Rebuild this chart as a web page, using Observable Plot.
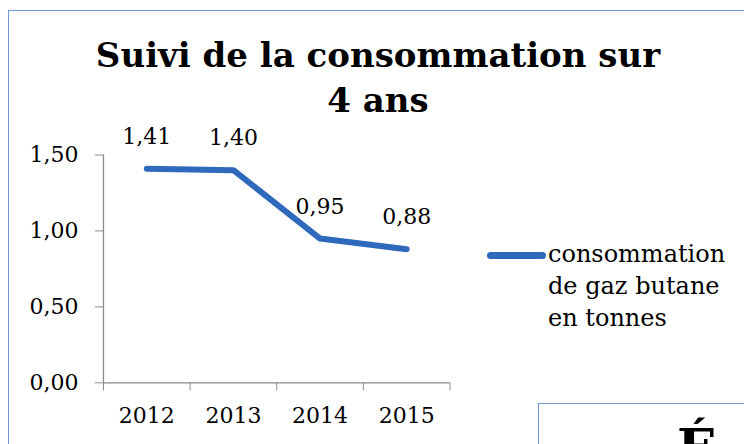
<!DOCTYPE html>
<html>
<head>
<meta charset="utf-8">
<script src="https://cdn.jsdelivr.net/npm/d3@7"></script>
<script src="https://cdn.jsdelivr.net/npm/@observablehq/plot@0.6"></script>
<style>
  html, body { margin: 0; padding: 0; background: #fff; }
  #page { position: relative; width: 744px; height: 444px; overflow: hidden; background: #fff; font-family: "DejaVu Serif", serif; color: #000; }
  #frame { position: absolute; left: 8px; top: 10px; width: 900px; height: 600px; border: 1.5px solid #6f98d3; box-sizing: border-box; }
  #title { position: absolute; left: 78px; width: 600px; top: 33px; text-align: center; font-weight: bold; font-size: 34px; line-height: 45px; }
  #chart { position: absolute; left: 0; top: 0; }
  #legend { position: absolute; left: 486px; top: 238px; }
  #legend svg { position: absolute; left: 0; top: 0; }
  #legend .lbl { position: absolute; left: 62px; top: 0; font-size: 24px; line-height: 32px; white-space: nowrap; }
  #box { position: absolute; left: 538px; top: 403px; width: 400px; height: 200px; border: 1.5px solid #6f98d3; box-sizing: border-box; background: #fff; }
  #box span { position: absolute; left: 138px; top: 14px; font-weight: bold; font-size: 52px; line-height: 60px; }
</style>
</head>
<body>
<div id="page">
  <div id="frame"></div>
  <div id="chart"></div>
  <div id="title">Suivi de la consommation sur<br>4 ans</div>
  <div id="legend"></div>
  <div id="box"><span>É</span></div>
</div>
<script>
const years = [2012, 2013, 2014, 2015];
const values = [1.41, 1.40, 0.95, 0.88];
const yTicks = [0, 0.5, 1, 1.5];
const seriesName = ["consommation", "de gaz butane", "en tonnes"];
const lineColor = "#2f69bb";
const axisColor = "#8a8a8a";

const data = years.map((year, i) => ({year, value: values[i]}));
const fmt = d => d.toFixed(2).replace(".", ",");
const boundaries = [...years.map(y => y - 0.5), years[years.length - 1] + 0.5];

const chart = Plot.plot({
  width: 744,
  height: 444,
  marginLeft: 103,
  marginRight: 294.5,
  marginTop: 154.5,
  marginBottom: 61.7,
  style: {fontFamily: "DejaVu Serif", fontSize: "22px", background: "transparent", color: "#000"},
  x: {type: "linear", domain: [boundaries[0], boundaries[boundaries.length - 1]], label: null},
  y: {domain: [0, 1.5], label: null},
  marks: [
    Plot.ruleX([boundaries[0]], {y1: 0, y2: 1.5, stroke: axisColor, strokeWidth: 1.3}),
    Plot.ruleY([0], {stroke: axisColor, strokeWidth: 1.3}),
    Plot.axisY({ticks: yTicks, tickFormat: fmt, tickSize: 8, tickPadding: 17, stroke: axisColor, fill: "#000", fontSize: 22, label: null}),
    Plot.axisX({ticks: boundaries, tickFormat: () => "", tickSize: 8, stroke: axisColor, label: null}),
    Plot.axisX({ticks: years, tickFormat: d => String(d), tickSize: 0, tickPadding: 25, fill: "#000", fontSize: 22, label: null}),
    Plot.line(data, {x: "year", y: "value", stroke: lineColor, strokeWidth: 6, strokeLinecap: "round", strokeLinejoin: "round"}),
    Plot.text(data, {x: "year", y: "value", text: d => fmt(d.value), lineAnchor: "bottom", dy: -25, fontSize: 22, fill: "#000"})
  ]
});
document.getElementById("chart").appendChild(chart);

const legend = document.getElementById("legend");
legend.innerHTML = `<svg width="64" height="40"><line x1="4.5" x2="56.5" y1="17.5" y2="17.5" stroke="${lineColor}" stroke-width="7" stroke-linecap="round"/></svg>` +
  `<div class="lbl">${seriesName.join("<br>")}</div>`;
</script>
</body>
</html>
